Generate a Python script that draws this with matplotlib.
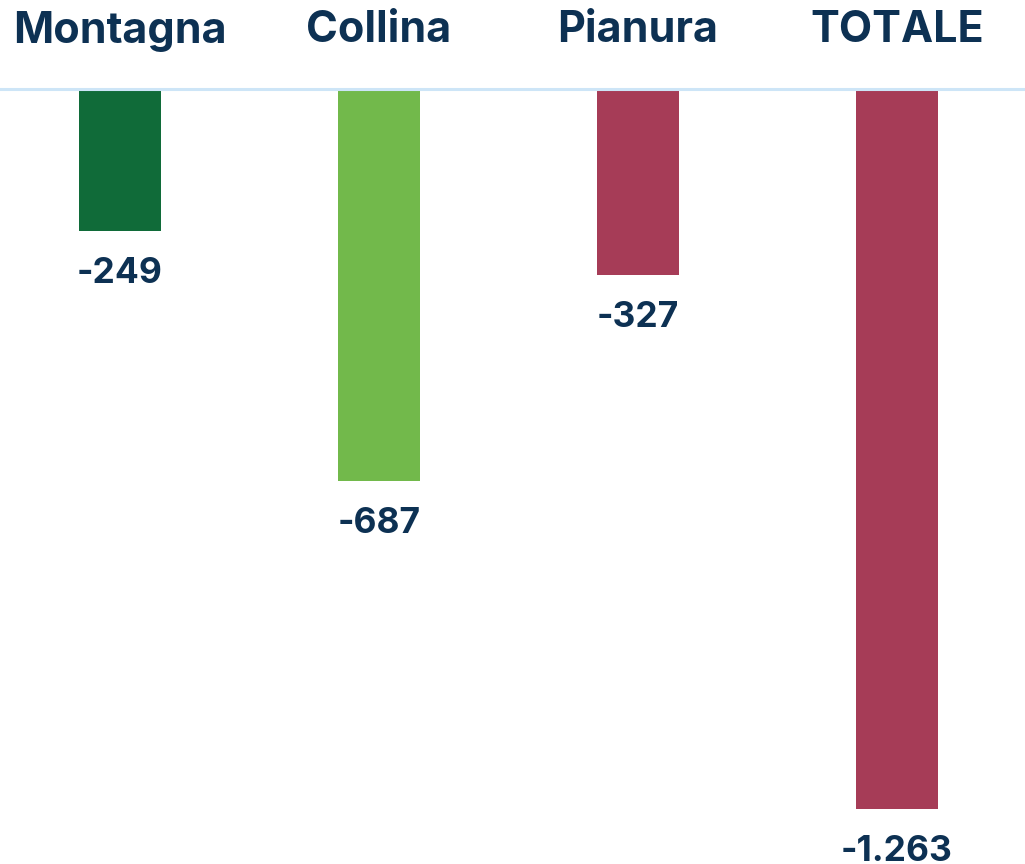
import matplotlib
matplotlib.use('Agg')
import matplotlib.pyplot as plt

categories = ['Montagna', 'Collina', 'Pianura', 'TOTALE']
values = [-249, -687, -327, -1263]
colors = ['#106b39', '#72b94b', '#a63c57', '#a63c57']

text_color = '#0d3153'
plt.rcParams['font.family'] = ['Inter', 'DejaVu Sans']


def fmt(v):
    # italian thousands separator
    return '{:,}'.format(v).replace(',', '.')


fig = plt.figure(figsize=(10.25, 8.64), dpi=100)
ax = fig.add_axes([0, 0, 1, 1])

x = list(range(len(categories)))
ax.bar(x, values, 0.317, color=colors, zorder=2)

ax.set_xlim(-0.463, 3.494)
ax.set_ylim(-1359.4, 156.1)
ax.axhline(0, color='#cde5f7', lw=2.2, zorder=3)

for xi, cat, v in zip(x, categories, values):
    ax.annotate(cat, (xi, 1), xycoords=('data', 'axes fraction'),
                xytext=(0, -31 * 0.72), textcoords='offset points',
                ha='center', va='center', fontsize=31, fontweight='bold',
                color=text_color)
    ax.annotate(fmt(v), (xi, v), xytext=(0, -30.5), textcoords='offset points',
                ha='center', va='center', fontsize=25.5, fontweight='bold',
                color=text_color)

ax.axis('off')
fig.savefig('out.png', dpi=100)
